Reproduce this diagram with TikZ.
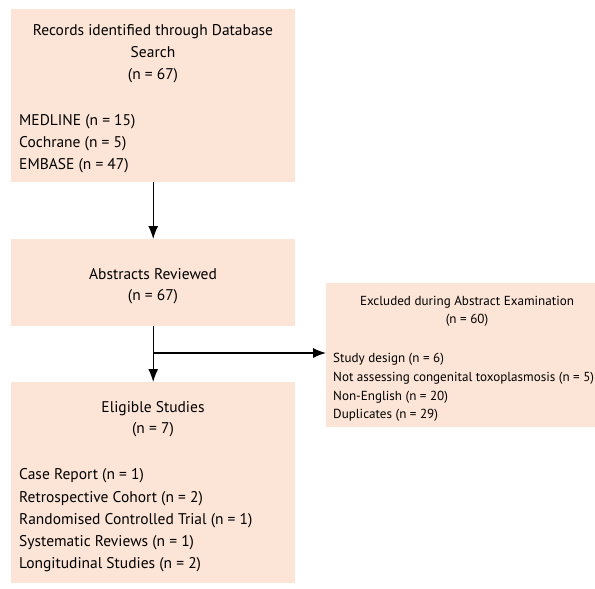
\documentclass[tikz,border=0pt]{standalone}
\usepackage{fontspec}
\setmainfont{PT Sans}
\usetikzlibrary{arrows.meta}
\newlength{\du}
\setlength{\du}{1pt}
\definecolor{boxfill}{RGB}{252,228,214}
\tikzset{
  stagebox/.style={fill=boxfill, draw=none, inner sep=0pt, anchor=north west},
  bigtext/.style={font=\fontsize{15.5}{19}\selectfont, inner sep=0pt, anchor=base},
  smalltext/.style={font=\fontsize{13.1}{16}\selectfont, inner sep=0pt, anchor=base},
  flow/.style={line width=1.2\du, -{Latex[length=13pt,width=10pt]}},
}

\begin{document}
\begin{tikzpicture}
\pgftransformyscale{-1.000000}
\fill[white] (0\du,0\du) rectangle (595\du,589\du);
\useasboundingbox (0\du,0\du) rectangle (595\du,589\du);
% boxes
\node[stagebox, minimum width=284\du, minimum height=173\du] (records) at (11\du,9\du) {};
\node[stagebox, minimum width=284\du, minimum height=87\du] (abstracts) at (11\du,239\du) {};
\node[stagebox, minimum width=269\du, minimum height=144\du] (excluded) at (326\du,283\du) {};
\node[stagebox, minimum width=284\du, minimum height=201\du] (eligible) at (11\du,382\du) {};
% records identified
\foreach \line/\y [count=\i] in {Records identified through Database/35, Search/57, (n = 67)/79}
  \node[bigtext] (rec-head-\i) at (153\du,\y\du) {\line};
\foreach \line/\y [count=\i] in {MEDLINE (n = 15)/125, Cochrane (n = 5)/147, EMBASE (n = 47)/169}
  \node[bigtext, anchor=base west] (rec-item-\i) at (19\du,\y\du) {\line};
% abstracts reviewed
\foreach \line/\y [count=\i] in {Abstracts Reviewed/279, (n = 67)/300}
  \node[bigtext] (abs-head-\i) at (153\du,\y\du) {\line};
% excluded
\foreach \line/\y [count=\i] in {Excluded during Abstract Examination/305, (n = 60)/323}
  \node[smalltext] (exc-head-\i) at (467\du,\y\du) {\line};
\foreach \line/\y [count=\i] in {Study design (n = 6)/362, Not assessing congenital toxoplasmosis (n = 5)/381, Non-English (n = 20)/400, Duplicates (n = 29)/418}
  \node[smalltext, anchor=base west] (exc-item-\i) at (333\du,\y\du) {\line};
% eligible studies
\foreach \line/\y [count=\i] in {Eligible Studies/412, (n = 7)/433}
  \node[bigtext] (eli-head-\i) at (153\du,\y\du) {\line};
\foreach \line/\y [count=\i] in {Case Report (n = 1)/479, Retrospective Cohort (n = 2)/502, Randomised Controlled Trial (n = 1)/524, Systematic Reviews (n = 1)/546, Longitudinal Studies (n = 2)/568}
  \node[bigtext, anchor=base west] (eli-item-\i) at (19\du,\y\du) {\line};
% connectors
\coordinate (branch) at (153\du,353\du);
\draw[flow] (records) -- (abstracts);
\draw[flow] (abstracts) -- (eligible);
\draw[flow] (branch) -- (branch -| excluded.west);
\end{tikzpicture}
\end{document}
